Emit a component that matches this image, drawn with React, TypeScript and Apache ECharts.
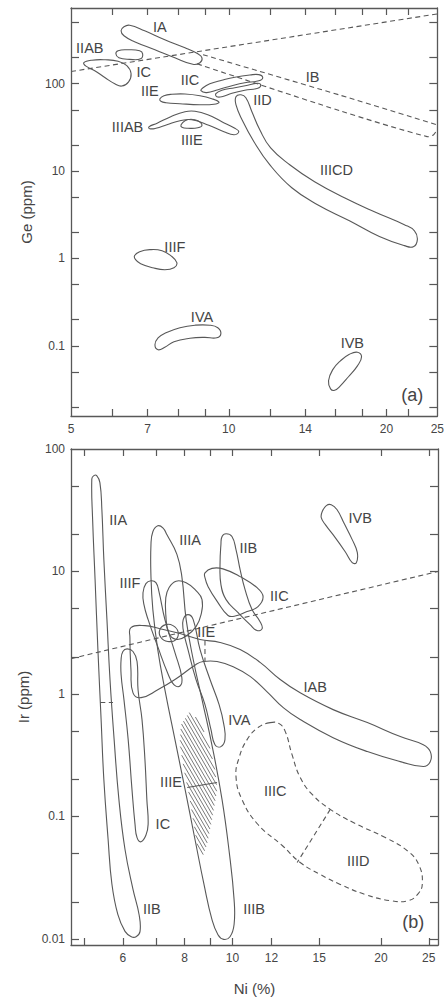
import React, { useEffect, useRef } from "react";
import * as echarts from "echarts";

type P = [number, number];

// ---------- Panel (a): Ge (ppm) vs Ni (%) ----------
const geIA: P[] = [[6.31,449],[6.47,467],[6.91,404],[7.55,319],[8.25,258],[8.73,220],[8.89,198],[8.81,174],[8.54,167],[7.89,198],[7.23,245],[6.61,303],[6.31,354],[6.23,404]];
const geIIAB: P[] = [[6.15,239],[6.41,245],[6.76,239],[6.85,220],[6.79,193],[6.47,190],[6.17,198],[6.09,220]];
const geIC: P[] = [[5.29,174],[5.48,186],[5.81,188],[6.15,181],[6.39,161],[6.51,131],[6.44,105],[6.25,94],[6.06,100],[5.81,117],[5.55,141],[5.34,159]];
const geIIC: P[] = [[8.93,90],[9.2,100],[9.7,109.5],[10.27,118.6],[10.97,125.6],[11.41,127],[11.61,117],[11.41,108],[10.73,102.6],[10.14,94.9],[9.54,85.4],[9.08,79.1],[8.85,83.2]];
const geIID: P[] = [[9.45,76.9],[9.7,84.3],[10.27,90],[10.87,96.1],[11.36,101.3],[11.51,96.1],[11.36,88.8],[10.73,84.3],[10.14,77.9],[9.7,71],[9.49,71]];
const geIIE: P[] = [[7.39,67.4],[7.52,72.9],[7.79,75.8],[8.25,76.3],[8.81,72.9],[9.28,67.4],[9.58,61.4],[9.37,58.3],[8.81,57.5],[8.07,59],[7.59,60.6],[7.42,63.1]];
const geIIIAB: P[] = [[7.04,32.1],[7.3,35.3],[7.75,41.9],[8.25,47.8],[8.62,48.4],[9.12,44.2],[9.7,36.7],[10.27,30.9],[10.45,28.2],[10.23,26],[9.79,28.2],[9.16,33.5],[8.5,38.7],[8.07,37.7],[7.62,33.9],[7.26,30.9],[7.07,30.5]];
const geIIIE: P[] = [[8.11,33.9],[8.25,37.7],[8.47,39.2],[8.73,37.7],[8.89,33.5],[8.73,31.3],[8.36,30.9],[8.14,31.7]];
const geIIICD: P[] = [[10.32,71],[10.55,74.8],[10.78,69.1],[11.07,47.8],[11.46,29.7],[12.02,18.4],[13.07,11.83],[14.58,7.55],[16.62,4.95],[18.96,3.42],[21.63,2.43],[22.61,2.07],[22.9,1.64],[22.5,1.36],[21.63,1.4],[19.38,1.78],[16.99,2.7],[14.77,4.12],[13.19,6.44],[11.97,11.83],[11.17,21.7],[10.6,38.7],[10.32,57.5]];
const geIIIF: P[] = [[6.61,1.075],[6.76,1.195],[7.07,1.26],[7.46,1.227],[7.75,1.075],[7.96,0.893],[7.86,0.782],[7.55,0.742],[7.16,0.782],[6.79,0.87],[6.64,0.967]];
const geIVA: P[] = [[7.23,0.1025],[7.33,0.1233],[7.59,0.141],[8.07,0.161],[8.62,0.172],[9.2,0.172],[9.53,0.161],[9.66,0.1377],[9.49,0.1233],[8.99,0.1249],[8.43,0.1217],[7.86,0.111],[7.55,0.0961],[7.33,0.09]];
const geIVB: P[] = [[15.64,0.0321],[15.5,0.0397],[15.78,0.053],[16.33,0.0672],[16.99,0.0799],[17.6,0.0843],[17.92,0.0748],[17.6,0.0589],[16.92,0.0442],[16.26,0.0339],[15.92,0.0309]];
const geTrend: P[] = [[5,138],[25,630]];
const geIBUpper: P[] = [[8.93,215],[16.3,74],[24.9,34]];
const geIBLower: P[] = [[8.7,169],[16.3,49],[23.9,24.8],[24.6,26.1],[24.9,28.9]];

const geLabelNames = ["IA","IIAB","IC","IIC","IIE","IB","IID","IIIAB","IIIE","IIICD","IIIF","IVA","IVB","(a)"];
const geLabelNi = [7.39,5.43,6.88,8.43,7.07,14.45,11.6,6.41,8.5,16.05,7.89,8.89,17.21,22.4];
const geLabelGe = [449,258,138,111,83,120,65.6,32.1,22.9,10.4,1.36,0.215,0.108,0.0274];

const niTicksA = [6,7,8,9,10,12,14,16,18,20,22];
const niLabelsA = [5,7,10,14,20,25];
const geTicks = [0.02,0.05,0.1,0.2,0.5,1,2,5,10,20,50,100,200,500];
const geLabels = [0.1,1,10,100];

// ---------- Panel (b): Ir (ppm) vs Ni (%) ----------
const irIIAB: P[] = [[5.19,57],[5.21,26.5],[5.27,8.6],[5.34,2.3],[5.42,0.62],[5.49,0.2],[5.6,0.065],[5.7,0.028],[5.86,0.0158],[6.06,0.0115],[6.24,0.0104],[6.38,0.0104],[6.5,0.0115],[6.47,0.0158],[6.29,0.0253],[6.06,0.0536],[5.89,0.137],[5.76,0.423],[5.65,1.31],[5.57,4.04],[5.49,12.5],[5.44,31.9],[5.39,53.1],[5.31,60.6],[5.24,60.6]];
const irIC: P[] = [[5.95,1.91],[6.0,2.22],[6.12,2.33],[6.29,2.22],[6.41,1.84],[6.44,1.08],[6.56,0.617],[6.65,0.291],[6.71,0.137],[6.75,0.086],[6.68,0.07],[6.53,0.062],[6.41,0.067],[6.35,0.086],[6.26,0.166],[6.15,0.423],[6.03,0.898],[5.95,1.44]];
const irIIIF: P[] = [[6.59,6.7],[6.68,7.95],[6.84,8.4],[7.0,8.1],[7.1,6.84],[7.3,4.04],[7.65,2.17],[7.9,1.36],[7.83,1.16],[7.61,1.19],[7.4,1.47],[7.06,2.43],[6.75,4.04],[6.62,5.36]];
const irIIIAB: P[] = [[7.06,23.6],[6.9,21.1],[6.84,16.6],[6.84,9.07],[6.9,4.88],[7.06,2.3],[7.3,1.08],[7.65,0.423],[8.02,0.166],[8.4,0.0647],[8.76,0.0278],[9.09,0.0144],[9.35,0.0108],[9.6,0.0099],[9.89,0.0104],[10.08,0.0131],[10.08,0.0209],[9.84,0.0536],[9.53,0.137],[9.13,0.351],[8.68,0.898],[8.33,1.91],[8.06,4.04],[7.9,9.07],[7.72,13.8],[7.37,19.9],[7.23,22.7]];
const irIIB: P[] = [[9.48,16.6],[9.53,19.3],[9.71,20.3],[9.98,19.3],[10.17,15.1],[10.37,10.3],[10.61,7.1],[10.96,4.88],[11.38,3.89],[11.49,3.41],[11.22,3.29],[10.86,3.68],[10.27,4.61],[9.71,5.89],[9.48,7.81],[9.44,11.4]];
const irIIC: P[] = [[8.8,9.74],[9.09,10.6],[9.57,10.5],[10.37,9.07],[11.22,7.37],[11.54,6.23],[11.27,5.16],[10.71,4.7],[10.13,4.32],[9.8,4.37],[9.35,5.57],[8.93,7.51],[8.8,8.9]];
const irIVB: P[] = [[15.2,30.7],[15.5,34.5],[15.86,35.1],[16.3,31.9],[16.85,24.6],[17.49,18.2],[17.91,14.3],[17.83,11.8],[17.49,11.8],[16.93,14.5],[16.16,18.9],[15.43,24.1],[15.14,27.5]];
const irIAB: P[] = [[6.23,3.48],[6.65,3.61],[7.13,3.41],[7.83,3.11],[8.6,2.78],[9.44,2.63],[10.37,2.3],[11.38,1.81],[12.5,1.31],[13.72,1.02],[16.0,0.744],[18.77,0.583],[21.89,0.448],[24.37,0.385],[25.18,0.338],[25.18,0.28],[24.37,0.255],[21.89,0.28],[18.77,0.338],[16.0,0.439],[13.72,0.617],[12.68,0.772],[11.76,1.04],[10.86,1.39],[10.04,1.67],[9.31,1.84],[8.72,1.84],[8.44,1.74],[7.65,1.31],[7.06,1.08],[6.53,0.932],[6.29,1.02],[6.23,1.58],[6.2,2.89]];
const irIVA: P[] = [[7.95,4.04],[8.13,4.44],[8.33,4.04],[8.6,2.3],[9.01,1.31],[9.4,0.817],[9.61,0.562],[9.66,0.423],[9.48,0.371],[9.22,0.385],[9.05,0.511],[8.8,0.817],[8.44,1.31],[8.13,2.3],[7.95,3.35]];
const irIIE: P[] = [[7.44,7.37],[7.69,8.33],[8.06,8.09],[8.44,6.97],[8.68,5.89],[8.64,4.44],[8.44,3.54],[8.09,3.0],[7.72,2.78],[7.44,3.11],[7.33,4.44],[7.33,6.12]];
const irSmallLoop: P[] = [[7.13,3.35],[7.33,3.68],[7.58,3.61],[7.76,3.22],[7.69,2.78],[7.4,2.68],[7.16,2.9]];
const irIIICD: P[] = [[11.93,0.583],[11.27,0.531],[10.71,0.423],[10.32,0.302],[10.17,0.212],[10.46,0.137],[11.27,0.0858],[12.62,0.0578],[13.72,0.042],[15.07,0.0335],[16.54,0.0278],[18.6,0.023],[20.89,0.0205],[22.73,0.0205],[23.8,0.0234],[24.26,0.0283],[23.9,0.0397],[22.73,0.0516],[20.41,0.0672],[17.74,0.0874],[15.79,0.114],[14.51,0.151],[13.72,0.208],[13.21,0.319],[12.8,0.492],[12.44,0.572]];
const irIIIEHatch: P[] = [[8.21,0.72],[8.6,0.59],[8.97,0.385],[9.22,0.241],[9.31,0.166],[9.13,0.104],[8.88,0.059],[8.72,0.048],[8.48,0.059],[8.33,0.0942],[8.17,0.151],[7.98,0.241],[7.83,0.385],[7.87,0.56]];
const irTrend: P[] = [[4.71,1.94],[26.1,10.0]];
const irIIABSplit: P[] = [[5.4,0.85],[5.73,0.85]];
const irIABSplit: P[] = [[8.8,2.73],[8.8,1.84]];
const irIIICDSplit: P[] = [[15.79,0.114],[13.53,0.042]];
const irIIIABSplit: P[] = [[8.1,0.172],[9.31,0.189]];

const irLabelNames = ["IIA","IIIA","IIB","IVB","IIIF","IIC","IIE","IAB","IVA","IIIE","IC","IIIC","IIID","IIB","IIIB","(b)"];
const irLabelNi = [5.87,8.21,10.77,18.16,6.2,12.45,8.85,14.72,10.33,7.51,7.23,12.21,17.99,6.87,11.07,23.26];
const irLabelIr = [26.5,17.9,15.6,27.5,8.1,6.35,3.22,1.14,0.617,0.189,0.0858,0.16,0.0428,0.0176,0.0176,0.0136];

const niTicksB = [5,6,7,8,9,10,12,15,20,25];
const niLabelsB = [6,8,10,12,15,20,25];
const irTicks = [0.01,0.02,0.05,0.1,0.2,0.5,1,2,5,10,20,50];
const irLabels = [0.01,0.1,1,10,100];

// ---------- styling ----------
const LINE = "#585858";
const TEXT = "#454545";
const FONT = '"Liberation Sans", Arial, Helvetica, sans-serif';

type Shape = { pts: P[]; closed: boolean; dashed?: boolean; smooth?: number; hatch?: boolean };

const shapesA: Shape[] = [
  { pts: geIA, closed: true }, { pts: geIIAB, closed: true }, { pts: geIC, closed: true },
  { pts: geIIC, closed: true }, { pts: geIID, closed: true }, { pts: geIIE, closed: true },
  { pts: geIIIAB, closed: true }, { pts: geIIIE, closed: true }, { pts: geIIICD, closed: true },
  { pts: geIIIF, closed: true }, { pts: geIVA, closed: true }, { pts: geIVB, closed: true },
  { pts: geTrend, closed: false, dashed: true, smooth: 0 },
  { pts: geIBUpper, closed: false, dashed: true, smooth: 0.3 },
  { pts: geIBLower, closed: false, dashed: true, smooth: 0.3 },
];

const shapesB: Shape[] = [
  { pts: irIIIEHatch, closed: true, hatch: true },
  { pts: irIIAB, closed: true }, { pts: irIC, closed: true }, { pts: irIIIF, closed: true },
  { pts: irIIIAB, closed: true }, { pts: irIIB, closed: true }, { pts: irIIC, closed: true },
  { pts: irIVB, closed: true }, { pts: irIAB, closed: true }, { pts: irIVA, closed: true },
  { pts: irIIE, closed: true }, { pts: irSmallLoop, closed: true },
  { pts: irIIICD, closed: true, dashed: true },
  { pts: irTrend, closed: false, dashed: true, smooth: 0 },
  { pts: irIIABSplit, closed: false, dashed: true, smooth: 0 },
  { pts: irIABSplit, closed: false, dashed: true, smooth: 0 },
  { pts: irIIICDSplit, closed: false, dashed: true, smooth: 0 },
  { pts: irIIIABSplit, closed: false, smooth: 0 },
];

function hatchGroup(pts: number[][], spacing: number) {
  const ang = (60 * Math.PI) / 180;
  const d = [Math.cos(ang), Math.sin(ang)];
  const n = [-d[1], d[0]];
  const ss = pts.map((p) => p[0] * n[0] + p[1] * n[1]);
  const smin = Math.min(...ss);
  const smax = Math.max(...ss);
  const children: any[] = [];
  for (let s = smin + spacing / 2; s < smax; s += spacing) {
    const hits: number[][] = [];
    for (let i = 0; i < pts.length; i++) {
      const j = (i + 1) % pts.length;
      const sa = ss[i], sb = ss[j];
      if ((sa - s) * (sb - s) < 0) {
        const t = (s - sa) / (sb - sa);
        const x = pts[i][0] + t * (pts[j][0] - pts[i][0]);
        const y = pts[i][1] + t * (pts[j][1] - pts[i][1]);
        hits.push([x, y, x * d[0] + y * d[1]]);
      }
    }
    hits.sort((u, v) => u[2] - v[2]);
    for (let k = 0; k + 1 < hits.length; k += 2) {
      children.push({
        type: "line",
        shape: { x1: hits[k][0], y1: hits[k][1], x2: hits[k + 1][0], y2: hits[k + 1][1] },
        style: { stroke: LINE, lineWidth: 0.8 },
      });
    }
  }
  return { type: "group", children };
}

function shapeRenderer(shapes: Shape[]) {
  return (_params: any, api: any) => {
    const s = shapes[api.value(2)];
    const pts = s.pts.map((p) => api.coord(p));
    if (s.hatch) return hatchGroup(pts, 3.1);
    const style = {
      fill: "none",
      stroke: LINE,
      lineWidth: 1.1,
      lineDash: s.dashed ? [5, 3.5] : null,
    };
    const smooth = s.smooth === undefined ? 0.45 : s.smooth;
    return {
      type: s.closed ? "polygon" : "polyline",
      shape: { points: pts, smooth },
      style,
    };
  };
}

function labelRenderer(names: string[]) {
  return (_params: any, api: any) => {
    const idx = api.value(2);
    const [x, y] = api.coord([api.value(0), api.value(1)]);
    const isTag = names[idx].startsWith("(");
    return {
      type: "text",
      x,
      y,
      style: {
        text: names[idx],
        fill: TEXT,
        font: `${isTag ? 18 : 14.5}px ${FONT}`,
        align: "center",
        verticalAlign: "middle",
      },
    };
  };
}

const fmt = (v: number) => String(parseFloat(Number(v).toPrecision(4)));

function xAxis(grid: number, min: number, max: number, ticks: number[], labels: number[], top: boolean, name?: string) {
  return {
    type: "log",
    gridIndex: grid,
    min,
    max,
    position: top ? "top" : "bottom",
    name: name || "",
    nameLocation: "middle",
    nameGap: 36,
    nameTextStyle: { fontSize: 15, color: TEXT, fontFamily: FONT },
    axisLine: { show: true, onZero: false, lineStyle: { color: LINE, width: 1.3 } },
    axisTick: { show: true, inside: true, length: 7, customValues: ticks, lineStyle: { color: LINE, width: 1.2 } },
    axisLabel: {
      show: !top,
      customValues: labels,
      margin: 7,
      fontSize: 12,
      color: TEXT,
      fontFamily: FONT,
      showMinLabel: true,
      showMaxLabel: true,
      formatter: fmt,
    },
    splitLine: { show: false },
    minorTick: { show: false },
  };
}

function yAxis(grid: number, min: number, max: number, ticks: number[], labels: number[], right: boolean, name?: string) {
  return {
    type: "log",
    gridIndex: grid,
    min,
    max,
    position: right ? "right" : "left",
    name: name || "",
    nameLocation: "middle",
    nameGap: 36,
    nameTextStyle: { fontSize: 15, color: TEXT, fontFamily: FONT },
    axisLine: { show: true, onZero: false, lineStyle: { color: LINE, width: 1.3 } },
    axisTick: { show: true, inside: true, length: 8, customValues: ticks, lineStyle: { color: LINE, width: 1.2 } },
    axisLabel: {
      show: !right,
      customValues: labels,
      margin: 6,
      fontSize: 12,
      color: TEXT,
      fontFamily: FONT,
      showMinLabel: true,
      showMaxLabel: true,
      formatter: fmt,
    },
    splitLine: { show: false },
    minorTick: { show: false },
  };
}

function buildOption() {
  const shapeDataA = shapesA.map((s, i) => [s.pts[0][0], s.pts[0][1], i]);
  const shapeDataB = shapesB.map((s, i) => [s.pts[0][0], s.pts[0][1], i]);
  const labelDataA = geLabelNames.map((_, i) => [geLabelNi[i], geLabelGe[i], i]);
  const labelDataB = irLabelNames.map((_, i) => [irLabelNi[i], irLabelIr[i], i]);
  return {
    animation: false,
    backgroundColor: "#ffffff",
    textStyle: { fontFamily: FONT },
    grid: [
      { left: 71, top: 8, width: 367, height: 408 },
      { left: 71, top: 449, width: 367, height: 496 },
    ],
    xAxis: [
      xAxis(0, 5, 25, niTicksA, niLabelsA, false),
      xAxis(0, 5, 25, niTicksA, niLabelsA, true),
      xAxis(1, 4.71, 26.1, niTicksB, niLabelsB, false, "Ni (%)"),
      xAxis(1, 4.71, 26.1, niTicksB, niLabelsB, true),
    ],
    yAxis: [
      yAxis(0, 0.0157, 736, geTicks, geLabels, false, "Ge (ppm)"),
      yAxis(0, 0.0157, 736, geTicks, geLabels, true),
      yAxis(1, 0.0089, 100, irTicks, irLabels, false, "Ir (ppm)"),
      yAxis(1, 0.0089, 100, irTicks, irLabels, true),
    ],
    series: [
      {
        type: "custom",
        xAxisIndex: 0,
        yAxisIndex: 0,
        clip: true,
        encode: { x: 0, y: 1 },
        data: shapeDataA,
        renderItem: shapeRenderer(shapesA),
      },
      {
        type: "custom",
        xAxisIndex: 0,
        yAxisIndex: 0,
        encode: { x: 0, y: 1 },
        data: labelDataA,
        renderItem: labelRenderer(geLabelNames),
      },
      {
        type: "custom",
        xAxisIndex: 2,
        yAxisIndex: 2,
        clip: true,
        encode: { x: 0, y: 1 },
        data: shapeDataB,
        renderItem: shapeRenderer(shapesB),
      },
      {
        type: "custom",
        xAxisIndex: 2,
        yAxisIndex: 2,
        encode: { x: 0, y: 1 },
        data: labelDataB,
        renderItem: labelRenderer(irLabelNames),
      },
    ],
  };
}

export default function App() {
  const ref = useRef<HTMLDivElement>(null);
  useEffect(() => {
    if (!ref.current) return;
    const chart = echarts.init(ref.current, null, { renderer: "svg" });
    chart.setOption(buildOption() as any);
    return () => chart.dispose();
  }, []);
  return (
    <div
      ref={ref}
      style={{ position: "fixed", left: 0, top: 0, width: 447, height: 998, background: "#fff" }}
    />
  );
}
